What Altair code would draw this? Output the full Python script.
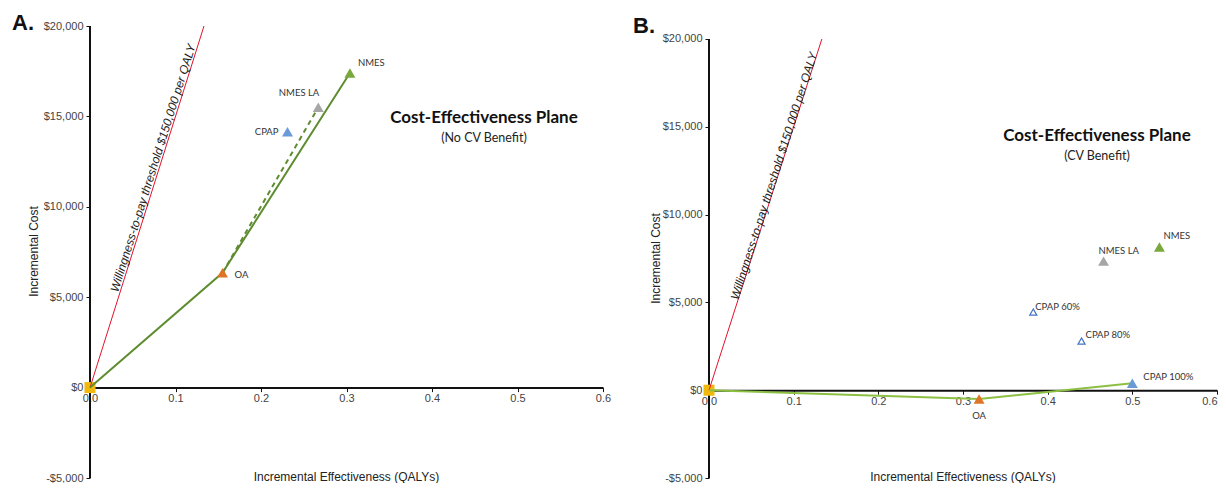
import altair as alt
import pandas as pd

# ---------------- data ----------------
a_names = ["Reference", "OA", "CPAP", "NMES LA", "NMES"]
a_qalys = [0.0, 0.155, 0.231, 0.267, 0.304]
a_costs = [0, 6350, 14150, 15500, 17400]
a_frontier = ["Reference", "OA", "NMES"]
a_dashed = ["OA", "NMES LA"]

b_names = ["Reference", "OA", "CPAP 60%", "CPAP 80%", "CPAP 100%", "NMES LA", "NMES"]
b_qalys = [0.0, 0.319, 0.383, 0.440, 0.500, 0.466, 0.532]
b_costs = [0, -500, 4450, 2800, 400, 7350, 8150]
b_frontier = ["Reference", "OA", "CPAP 100%"]
b_hollow = ["CPAP 60%", "CPAP 80%"]

wtp = 150000
x_ticks = [0.0, 0.1, 0.2, 0.3, 0.4, 0.5, 0.6]
y_ticks = [-5000, 0, 5000, 10000, 15000, 20000]

# ---------------- styles ----------------
colors = {
    "Reference": "#F0B90B",
    "OA": "#DE7426",
    "CPAP": "#6A9BD8",
    "CPAP 60%": "#4472C4",
    "CPAP 80%": "#4472C4",
    "CPAP 100%": "#6A9BD8",
    "NMES LA": "#A6A6A6",
    "NMES": "#79A83B",
}
AXIS_FONT = "Liberation Sans"
LABEL_FONT = "Lato"
W_A, W_B, H = 513, 508, 452
Y_MIN = y_ticks[0]

a_offsets = {
    "OA": ("left", 12, 2),
    "CPAP": ("right", -9, 0),
    "NMES LA": ("right", 1, -14),
    "NMES": ("left", 8, -10),
}
b_offsets = {
    "OA": ("center", 0, 17),
    "CPAP 60%": ("left", 2, -5),
    "CPAP 80%": ("left", 4, -6),
    "CPAP 100%": ("left", 11, -6),
    "NMES LA": ("left", -5, -10),
    "NMES": ("left", 4, -11),
}

Y_LABEL_EXPR = "datum.value < 0 ? '-$' + format(-datum.value, ',') : '$' + format(datum.value, ',')"


def note(text, x, y, **kw):
    return (
        alt.Chart(pd.DataFrame({"t": [text]}))
        .mark_text(**kw)
        .encode(x=alt.value(x), y=alt.value(y), text="t:N")
    )


def make_panel(names, qalys, costs, frontier, frontier_color, dashed, hollow, y_top,
               width, offsets, letter, letter_xy, title_xy, subtitle, wtp_xy, wtp_angle,
               ytitle_xy, flush_last_label):
    df = pd.DataFrame({"strategy": names, "qaly": qalys, "cost": costs})
    zero_off = H * (0 - Y_MIN) / (y_top - Y_MIN)
    xs = alt.Scale(domain=[x_ticks[0], x_ticks[-1]], nice=False, zero=False)
    ys = alt.Scale(domain=[Y_MIN, y_top], nice=False, zero=False)
    if flush_last_label:
        label_align = alt.ConditionalAxisLabelAlign(
            condition={"test": f"datum.value >= {x_ticks[-1]}", "value": "right"},
            value="center",
        )
    else:
        label_align = "center"
    xaxis = alt.Axis(
        values=x_ticks, format=".1f", offset=-zero_off, title=None, grid=False,
        domainColor="#111111", domainWidth=2, tickColor="#111111", tickWidth=1,
        tickSize=4, labelFont=AXIS_FONT, labelFontSize=11, labelColor="#444444",
        labelPadding=1, labelFlush=False, labelOverlap=False, labelAlign=label_align,
    )
    yaxis = alt.Axis(
        values=y_ticks, labelExpr=Y_LABEL_EXPR, domain=False, grid=False,
        tickColor="#111111", tickSize=4, tickWidth=1, labelFont=AXIS_FONT,
        labelFontSize=11, labelColor="#444444", labelPadding=3, labelFlush=False,
        labelOverlap=False, title="Incremental Cost", titleFont=AXIS_FONT,
        titleFontSize=12, titleFontWeight="normal", titleColor="#222222",
        titleX=ytitle_xy[0], titleY=ytitle_xy[1], titleAngle=270, titleAlign="center",
        titleBaseline="middle",
    )

    def X(f):
        return alt.X(f, type="quantitative", scale=xs, axis=xaxis)

    def Y(f):
        return alt.Y(f, type="quantitative", scale=ys, axis=yaxis)

    base = alt.Chart(df)
    layers = []

    yline_df = pd.DataFrame({"qaly": [0.0], "lo": [Y_MIN], "hi": [y_ticks[-1]]})
    layers.append(
        alt.Chart(yline_df).mark_rule(color="#111111", strokeWidth=2)
        .encode(x=X("qaly"), y=Y("lo"), y2=alt.Y2("hi"))
    )

    layers.append(
        base.transform_filter(alt.datum.strategy == "Reference")
        .mark_square(size=121, color=colors["Reference"], opacity=1)
        .encode(x=X("qaly"), y=Y("cost"))
    )

    wtp_df = pd.DataFrame({"qaly": [0.0, y_ticks[-1] / wtp], "cost": [0, y_ticks[-1]]})
    layers.append(
        alt.Chart(wtp_df).mark_line(color="#E3122B", strokeWidth=1)
        .encode(x=X("qaly"), y=Y("cost"))
    )

    fr = df.set_index("strategy").loc[frontier].reset_index()
    fr["step"] = list(range(len(fr)))
    layers.append(
        alt.Chart(fr).mark_line(color=frontier_color, strokeWidth=2)
        .encode(x=X("qaly"), y=Y("cost"), order="step:Q")
    )
    if dashed:
        ds = df.set_index("strategy").loc[dashed].reset_index()
        ds["step"] = list(range(len(ds)))
        layers.append(
            alt.Chart(ds).mark_line(color=frontier_color, strokeWidth=2, strokeDash=[5, 4])
            .encode(x=X("qaly"), y=Y("cost"), order="step:Q")
        )

    filled_names = [n for n in names if n != "Reference" and n not in hollow]
    layers.append(
        base.transform_filter(alt.FieldOneOfPredicate(field="strategy", oneOf=filled_names))
        .mark_point(shape="triangle-up", filled=True, size=120, opacity=1)
        .encode(
            x=X("qaly"), y=Y("cost"),
            color=alt.Color("strategy:N", scale=alt.Scale(domain=list(colors.keys()),
                                                          range=list(colors.values())),
                            legend=None),
        )
    )
    if hollow:
        layers.append(
            base.transform_filter(alt.FieldOneOfPredicate(field="strategy", oneOf=hollow))
            .mark_point(shape="triangle-up", filled=False, fill="white", fillOpacity=1,
                        stroke="#4472C4", strokeWidth=1.2, size=50, opacity=1)
            .encode(x=X("qaly"), y=Y("cost"))
        )

    for n, (al, dx, dy) in offsets.items():
        layers.append(
            base.transform_filter(alt.datum.strategy == n)
            .mark_text(align=al, baseline="middle", dx=dx, dy=dy, font=LABEL_FONT,
                       fontSize=9.5, color="#333333")
            .encode(x=X("qaly"), y=Y("cost"), text="strategy:N")
        )

    layers.append(note(letter, letter_xy[0], letter_xy[1], align="left", baseline="alphabetic",
                       font=AXIS_FONT, fontSize=22, fontWeight="bold", color="#111111"))
    layers.append(note("Cost-Effectiveness Plane", title_xy[0], title_xy[1], align="center",
                       baseline="middle", font=LABEL_FONT, fontSize=17, fontWeight="bold",
                       color="#111111"))
    layers.append(note(subtitle, title_xy[0], title_xy[1] + 20, align="center",
                       baseline="middle", font=LABEL_FONT, fontSize=12.5, color="#222222"))
    layers.append(note("Willingness-to-pay threshold $150,000 per QALY", wtp_xy[0], wtp_xy[1],
                       align="center", baseline="middle", angle=wtp_angle, font=AXIS_FONT,
                       fontSize=12, fontStyle="italic", color="#222222"))
    layers.append(note("Incremental Effectiveness (QALYs)", width / 2, H - 1, align="center",
                       baseline="middle", font=AXIS_FONT, fontSize=12, color="#222222"))

    return alt.layer(*layers).properties(width=width, height=H)


panel_a = make_panel(a_names, a_qalys, a_costs, a_frontier, "#5E8C31", a_dashed, [],
                     20000, W_A, a_offsets, "A.", (-78, 4), (394, 92), "(No CV Benefit)",
                     (63, 142), 287.5, (-57, 225), False)
panel_b = make_panel(b_names, b_qalys, b_costs, b_frontier, "#8CC043", [], b_hollow,
                     20740, W_B, b_offsets, "B.", (-76, 7), (388, 110), "(CV Benefit)",
                     (65, 150), 287.8, (-54, 232), True)

chart = (
    alt.hconcat(panel_a, panel_b, spacing=106, bounds="flush")
    .properties(padding={"left": 4, "top": 4, "right": 0, "bottom": 0})
    .configure_view(stroke=None)
)

chart.save("out.html", embed_options={"renderer": "svg", "actions": False})
